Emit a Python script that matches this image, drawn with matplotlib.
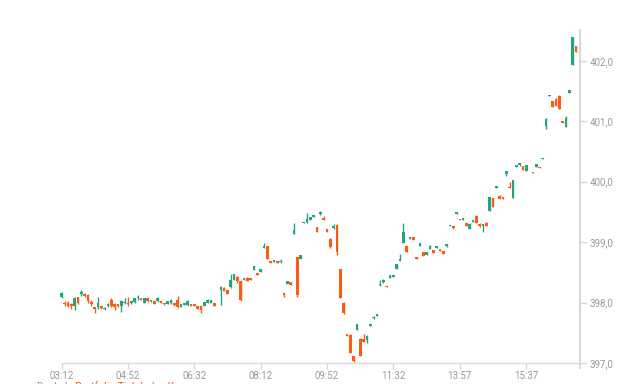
import matplotlib
matplotlib.use("Agg")
import matplotlib.pyplot as plt
import numpy as np

plt.rcParams['font.family'] = ['Roboto', 'DejaVu Sans']

# ---------------- data ----------------
tick_slots = [0, 20, 40, 60, 80, 100, 120, 140]
tick_labels = ["03:12", "04:52", "06:32", "08:12", "09:52", "11:32", "13:57", "15:37"]
y_ticks = [397.0, 398.0, 399.0, 400.0, 401.0, 402.0]
y_tick_labels = ["397,0", "398,0", "399,0", "400,0", "401,0", "402,0"]

slot = [0, 1, 2, 3, 4, 5, 6, 7, 8, 9, 10, 11, 12, 13, 14, 15, 16, 17, 18, 19,
        20, 21, 22, 23, 24, 25, 26, 27, 28, 29, 30, 31, 32, 33, 34, 35, 36, 37, 38, 39,
        40, 41, 42, 43, 44, 45, 46, 48, 49, 50, 51, 52, 53, 54, 55, 56, 57, 58, 59,
        60, 61, 62, 63, 64, 65, 66, 67, 68, 69, 70, 71, 72, 73, 74, 75, 76, 77, 78, 79,
        80, 81, 82, 83, 84, 85, 86, 87, 88, 89, 90, 91, 92, 93, 94, 95, 96, 97, 98, 99,
        100, 101, 102, 103, 104, 105, 106, 107, 108, 109, 110, 111, 112, 113, 114, 115, 116, 117, 118, 119,
        120, 121, 122, 123, 124, 125, 126, 127, 128, 129, 130, 131, 132, 133, 134, 135, 136, 137, 138, 139,
        140, 142, 143, 144, 145, 146, 147, 148, 149, 150, 151, 152, 153, 154, 155]

open_ = [398.09, 398.00, 397.99, 397.97, 397.94, 398.10, 398.14, 398.14, 398.12, 398.01,
         397.92, 397.92, 397.94, 397.89, 397.94, 398.05, 397.97, 397.97, 397.94, 397.99,
         398.00, 397.99, 398.01, 398.07, 398.07, 398.00, 398.07, 398.02, 398.03, 398.02,
         398.02, 397.99, 397.97, 397.99, 398.00, 398.04, 397.92, 397.96, 397.96, 397.97,
         397.97, 397.95, 397.94, 397.94, 398.00, 398.00, 398.00, 398.20, 398.24, 398.20,
         398.25, 398.37, 398.43, 398.35, 398.37, 398.40, 398.41, 398.54, 398.49,
         398.50, 398.91, 398.93, 398.69, 398.67, 398.69, 398.67, 398.15, 398.31, 398.34,
         399.13, 398.75, 398.72, 399.31, 399.33, 399.37, 399.42, 399.25, 399.46, 399.40,
         399.22, 399.05, 399.24, 399.29, 398.55, 397.99, 397.48, 397.46, 397.11, 397.55,
         397.39, 397.39, 397.38, 397.62, 397.74, 397.77, 398.29, 398.34, 398.27, 398.41,
         398.42, 398.55, 398.69, 398.99, 398.93, 399.05, 399.09, 398.75, 398.93, 398.83,
         398.79, 398.88, 398.87, 398.90, 398.88, 398.85, 398.93, 399.26, 399.26, 399.47,
         399.39, 399.37, 399.31, 399.22, 399.34, 399.43, 399.30, 399.27, 399.31, 399.52,
         399.73, 399.90, 399.77, 399.74, 400.12, 399.92, 399.73, 400.25, 400.27, 400.26,
         400.18, 400.16, 400.25, 400.25, 400.38, 400.92, 401.41, 401.34, 401.37, 401.42,
         401.00, 400.91, 401.47, 401.93, 402.25]

high = [398.17, 398.02, 398.02, 397.99, 398.10, 398.10, 398.20, 398.16, 398.14, 398.04,
        397.93, 398.10, 397.95, 397.92, 397.99, 398.07, 397.99, 397.98, 398.05, 398.07,
        398.09, 398.03, 398.07, 398.12, 398.08, 398.08, 398.08, 398.05, 398.03, 398.09,
        398.02, 397.99, 398.02, 398.06, 398.00, 398.11, 397.97, 398.00, 398.04, 397.97,
        397.97, 397.95, 397.96, 398.01, 398.06, 398.04, 398.00, 398.27, 398.25, 398.21,
        398.48, 398.48, 398.44, 398.37, 398.41, 398.42, 398.41, 398.61, 398.49,
        398.55, 398.98, 398.93, 398.69, 398.70, 398.69, 398.72, 398.16, 398.35, 398.34,
        399.32, 398.76, 398.78, 399.34, 399.48, 399.41, 399.45, 399.25, 399.51, 399.43,
        399.22, 399.07, 399.30, 399.30, 398.55, 398.01, 397.48, 397.48, 397.11, 397.64,
        397.41, 397.48, 397.46, 397.65, 397.77, 397.81, 398.37, 398.39, 398.27, 398.45,
        398.45, 398.64, 398.81, 399.32, 398.93, 399.09, 399.09, 398.75, 398.99, 398.84,
        398.83, 398.95, 398.87, 398.93, 398.88, 398.85, 398.97, 399.29, 399.26, 399.50,
        399.39, 399.40, 399.32, 399.31, 399.37, 399.45, 399.31, 399.30, 399.34, 399.75,
        399.73, 399.93, 399.78, 399.74, 400.18, 400.00, 400.03, 400.28, 400.31, 400.26,
        400.27, 400.16, 400.29, 400.25, 400.40, 401.05, 401.44, 401.34, 401.39, 401.44,
        401.00, 401.08, 401.51, 402.40, 402.25]

low = [398.08, 397.94, 397.92, 397.89, 397.88, 397.98, 398.11, 398.09, 397.99, 397.94,
       397.82, 397.90, 397.90, 397.87, 397.93, 397.92, 397.88, 397.93, 397.85, 397.97,
       397.95, 397.98, 397.99, 398.04, 398.04, 398.00, 398.01, 398.01, 397.97, 398.01,
       397.99, 397.96, 397.97, 397.98, 397.95, 397.91, 397.92, 397.96, 397.94, 397.95,
       397.94, 397.89, 397.83, 397.94, 397.99, 398.00, 397.94, 397.96, 398.19, 398.14,
       398.24, 398.37, 398.33, 398.03, 398.37, 398.35, 398.38, 398.54, 398.46,
       398.50, 398.90, 398.72, 398.66, 398.67, 398.65, 398.65, 398.10, 398.31, 398.29,
       399.13, 398.10, 398.72, 399.31, 399.32, 399.37, 399.42, 399.16, 399.45, 399.37,
       399.16, 398.90, 399.22, 398.79, 398.08, 397.81, 397.45, 397.16, 397.02, 397.55,
       397.11, 397.34, 397.33, 397.62, 397.73, 397.77, 398.27, 398.33, 398.25, 398.41,
       398.42, 398.55, 398.69, 398.99, 398.84, 399.05, 399.04, 398.72, 398.93, 398.77,
       398.79, 398.88, 398.82, 398.90, 398.85, 398.80, 398.92, 399.26, 399.21, 399.47,
       399.36, 399.37, 399.26, 399.22, 399.34, 399.31, 399.25, 399.17, 399.26, 399.52,
       399.58, 399.90, 399.71, 399.71, 400.10, 399.89, 399.73, 400.25, 400.26, 400.20,
       400.18, 400.14, 400.25, 400.22, 400.38, 400.88, 401.41, 401.23, 401.26, 401.20,
       400.97, 400.91, 401.47, 401.93, 402.14]

close = [398.16, 397.97, 397.95, 397.94, 398.08, 397.99, 398.18, 398.11, 398.02, 397.98,
         397.89, 397.99, 397.91, 397.91, 397.97, 397.94, 397.92, 397.94, 398.03, 398.01,
         397.97, 398.03, 398.07, 398.10, 398.04, 398.08, 398.02, 398.04, 397.97, 398.07,
         397.99, 397.97, 398.02, 398.05, 397.96, 397.92, 397.97, 398.00, 398.02, 397.95,
         397.94, 397.89, 397.88, 398.01, 398.04, 398.04, 397.94, 398.26, 398.19, 398.14,
         398.37, 398.47, 398.35, 398.04, 398.41, 398.36, 398.38, 398.61, 398.46,
         398.55, 398.94, 398.72, 398.66, 398.70, 398.65, 398.69, 398.12, 398.35, 398.29,
         399.20, 398.12, 398.78, 399.34, 399.38, 399.41, 399.45, 399.16, 399.50, 399.37,
         399.16, 398.92, 399.27, 398.83, 398.08, 397.82, 397.45, 397.17, 397.04, 397.64,
         397.12, 397.35, 397.45, 397.65, 397.76, 397.81, 398.31, 398.37, 398.25, 398.45,
         398.45, 398.64, 398.72, 399.17, 398.84, 399.09, 399.04, 398.72, 398.99, 398.77,
         398.83, 398.94, 398.82, 398.93, 398.85, 398.80, 398.97, 399.29, 399.24, 399.50,
         399.36, 399.40, 399.26, 399.30, 399.37, 399.31, 399.26, 399.30, 399.26, 399.75,
         399.58, 399.93, 399.71, 399.71, 400.18, 399.89, 400.03, 400.28, 400.31, 400.20,
         400.27, 400.14, 400.29, 400.22, 400.40, 401.04, 401.44, 401.23, 401.26, 401.21,
         400.97, 401.05, 401.51, 402.40, 402.14]

# ---------------- style ----------------
UP = "#22a67c"
DOWN = "#fd5a12"
AXIS = "#d9d9d9"
LABEL = "#9a9a9a"

fig = plt.figure(figsize=(6.4, 3.84), dpi=100)
ax = fig.add_axes([61.5 / 640, 21 / 384, (580 - 61.5) / 640, (363 - 30) / 384])

x = np.array(slot, dtype=float)
o = np.array(open_)
h = np.array(high)
l = np.array(low)
c = np.array(close)
colors = [UP if cc >= oo else DOWN for oo, cc in zip(o, c)]

ax.vlines(x, l, h, colors=colors, linewidth=1.0, clip_on=False, zorder=2)
bottoms = np.minimum(o, c)
heights = np.maximum(np.abs(c - o), 0.02)
ax.bar(x, heights, bottom=bottoms, width=0.8, color=colors, linewidth=0,
       clip_on=False, zorder=3)

ax.set_xlim(0, 156.2)
ax.set_ylim(397.0, 402.51)

for s in ["left", "top"]:
    ax.spines[s].set_visible(False)
ax.spines["bottom"].set_color(AXIS)
ax.spines["bottom"].set_linewidth(1.0)
ax.spines["right"].set_color(AXIS)
ax.spines["right"].set_linewidth(1.5)
ax.spines["right"].set_bounds(396.92, 402.51)

ax.set_xticks(tick_slots)
ax.set_xticklabels(tick_labels)
ax.set_yticks(y_ticks)
ax.set_yticklabels(y_tick_labels)
ax.yaxis.tick_right()
ax.tick_params(axis="x", colors=AXIS, labelcolor=LABEL, length=4, width=1,
               labelsize=7, pad=1.5)
ax.tick_params(axis="y", colors=AXIS, labelcolor=LABEL, length=5, width=1,
               labelsize=7, pad=2)
ax.grid(False)

# legend at the bottom, cut off by the image edge as in the reference
fig.text(36 / 640, 2 / 384, "Dunkel", color=LABEL, fontsize=7.5, va="top", ha="left")
fig.text(75 / 640, 2 / 384, "Portfolio Tick-Index Kurs", color=DOWN, fontsize=7.5,
         va="top", ha="left")

fig.savefig("out.png", dpi=100)
